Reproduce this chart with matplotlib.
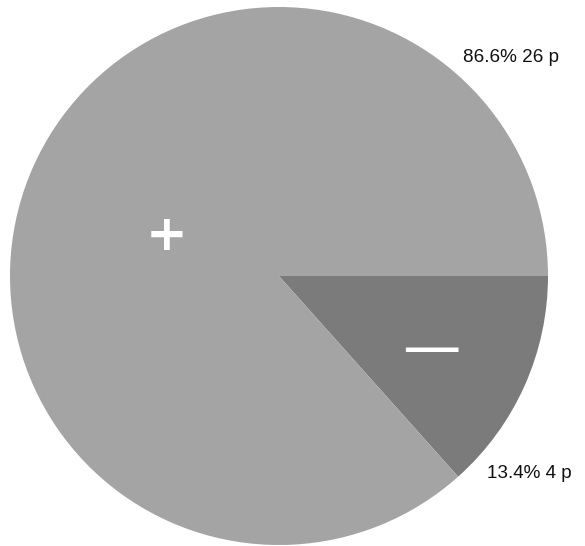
import numpy as np
import matplotlib.pyplot as plt

# share of answers and number of persons per group
signs = ["−", "+"]
shares = [13.4, 86.6]
persons = [4, 26]
colors = ["#7b7b7b", "#a4a4a4"]

fig = plt.figure(figsize=(5.85, 5.46), dpi=100)
ax = fig.add_axes([0, 0, 1, 1])

cx, cy, r = 279, 546 - 276, 269
ax.pie(shares, colors=colors, startangle=0, counterclock=False,
       center=(cx, cy), radius=r, frame=True,
       wedgeprops=dict(linewidth=0))

ax.set_xlim(0, 585)
ax.set_ylim(0, 546)
ax.set_aspect("auto")
ax.axis("off")

# white signs inside the slices
ax.text(167, 546 - 236, "+", color="white", fontsize=36, fontweight="bold",
        ha="center", va="center", family="DejaVu Sans")
ax.text(431, 546 - 350, "—", color="white", fontsize=42,
        ha="center", va="center", family="DejaVu Sans")

# percentage / count labels outside the circle
lab_kw = dict(fontsize=13.6, color="#111111", family="Liberation Sans",
              ha="left", va="center")
ax.text(463, 546 - 58, f"{shares[1]}% {persons[1]} p", **lab_kw)
ax.text(487, 546 - 473, f"{shares[0]}% {persons[0]} p", **lab_kw)

plt.savefig("out.png", dpi=100)
